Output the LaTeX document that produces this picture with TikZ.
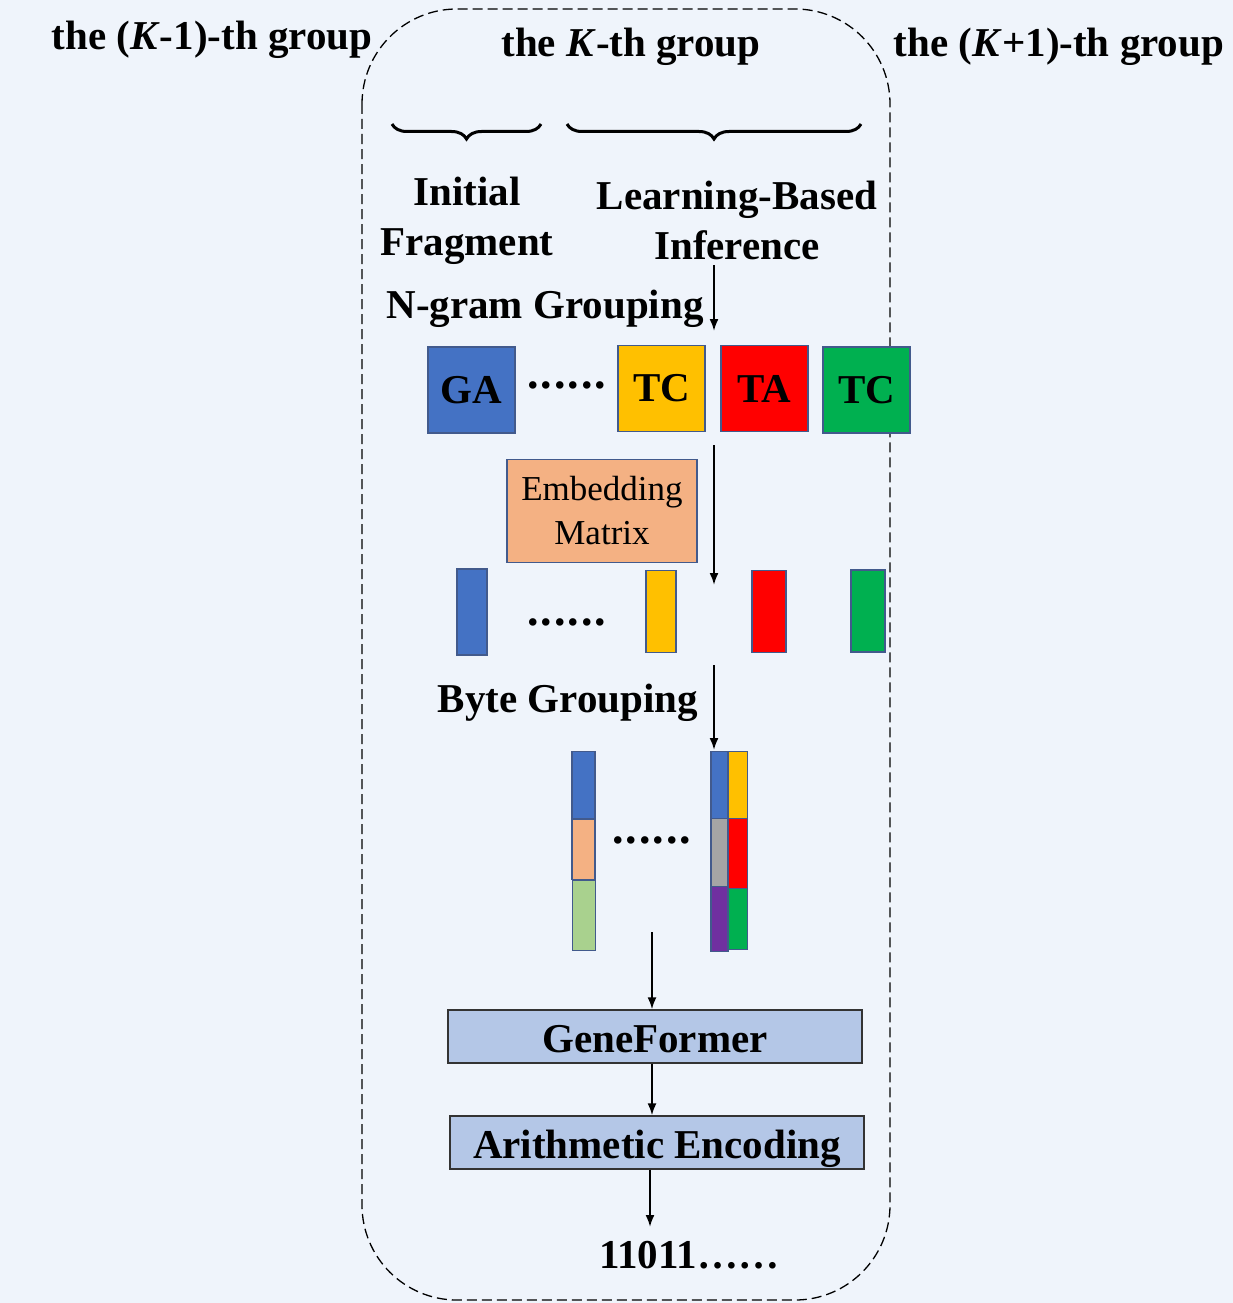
\documentclass[tikz,border=0pt]{standalone}
\usepackage{fontspec}
\setmainfont{Liberation Serif}
\usetikzlibrary{arrows.meta,decorations.pathreplacing,positioning}

\definecolor{bgblue}{RGB}{239,244,251}
\definecolor{ngblue}{RGB}{68,114,196}
\definecolor{ngyellow}{RGB}{255,192,0}
\definecolor{ngred}{RGB}{255,0,0}
\definecolor{nggreen}{RGB}{0,176,80}
\definecolor{embpeach}{RGB}{244,177,131}
\definecolor{softgreen}{RGB}{169,209,142}
\definecolor{midgray}{RGB}{165,165,165}
\definecolor{deeppurple}{RGB}{112,48,160}
\definecolor{modelblue}{RGB}{180,199,231}
\definecolor{edgeblue}{RGB}{66,90,140}

\newcommand{\gapdots}{{\fontsize{46}{46}\selectfont.\kern2pt.\kern2pt.\kern2pt.\kern2pt.\kern2pt.}}

\tikzset{
    bigtext/.style={font=\fontsize{41}{50}\selectfont\bfseries, align=center, inner sep=0pt},
    gram/.style={draw=edgeblue, line width=1.3pt, minimum width=87pt, minimum height=86pt,
        inner sep=0pt, font=\fontsize{41}{41}\selectfont\bfseries},
    vec/.style={draw=edgeblue, line width=1.3pt, minimum width=30pt, minimum height=82pt, inner sep=0pt},
    cell/.style={draw=edgeblue, line width=1.3pt, minimum width=20pt, inner sep=0pt, anchor=north},
    model/.style={draw=black!80, fill=modelblue, line width=1.3pt, minimum width=414pt,
        minimum height=53pt, inner sep=0pt, text height=33pt, text depth=1pt,
        font=\fontsize{41}{41}\selectfont\bfseries},
    flow/.style={-{Latex[length=12pt,width=9pt]}, line width=2pt},
    curly/.style={decorate, decoration={brace, mirror, amplitude=15pt}, line width=3pt}
}

\begin{document}
\begin{tikzpicture}[x=1pt,y=-1pt]
\useasboundingbox[fill=bgblue] (0,0) rectangle (1233,1303);

% the K-th group frame
\draw[dash pattern=on 10pt off 5pt, line width=1.3pt, rounded corners=95pt]
    (362,9) rectangle (890,1300);

% group titles
\node[bigtext, anchor=base] (prevgrp) at (212,50) {the (\textit{K}-1)-th group};
\node[bigtext, anchor=base] (curgrp) at (631,57) {the \textit{K}-th group};
\node[bigtext, anchor=base] (nextgrp) at (1059,57) {the (\textit{K}+1)-th group};

% braces
\draw[curly] (392,124) -- (541,124);
\draw[curly] (567,124) -- (861,124);

\node[bigtext] (initfrag) at (467,221) {Initial\\Fragment};
\node[bigtext] (infer) at (737,220) {Learning-Based\\Inference};
\node[bigtext, anchor=base] (ngram) at (545,318) {N-gram Grouping};

% n-gram tokens
\node[gram, fill=ngblue] (ga) at (471.5,390) {GA};
\node[bigtext, anchor=base] (dotsA) at (567,388) {\gapdots};
\node[gram, fill=ngyellow] (tcy) at (661.5,388.5) {TC};
\node[gram, fill=ngred] (ta) at (764.5,388.5) {TA};
\node[gram, fill=nggreen] (tcg) at (866.5,390) {TC};

% embedding
\node[
    draw=edgeblue,
    fill=embpeach,
    line width=1.3pt,
    minimum width=190pt,
    minimum height=103pt,
    align=center,
    font=\fontsize{35}{44}\selectfont
] (emb) at (602,511) {Embedding\\Matrix};

% embedded vectors
\node[vec, fill=ngblue, minimum height=86pt] (vb) at (472,612) {};
\node[bigtext, anchor=base] (dotsB) at (567,625) {\gapdots};
\node[vec, fill=ngyellow] (vy) at (661,611.5) {};
\node[vec, fill=ngred, minimum width=34pt] (vr) at (769,611.5) {};
\node[vec, fill=nggreen, minimum width=34pt] (vg) at (868,611) {};

\node[bigtext, anchor=base] (bytegrp) at (568,712) {Byte Grouping};

% byte-grouped columns
\node[cell, fill=ngblue, minimum width=23pt, minimum height=67pt] (lb) at (583.5,751) {};
\node[cell, fill=embpeach, minimum width=23pt, minimum height=60pt] (lp) at (583.5,819) {};
\node[cell, fill=softgreen, minimum width=23pt, minimum height=70pt] (lg) at (584,880) {};
\node[bigtext, anchor=base] (dotsC) at (652,843) {\gapdots};
\node[cell, fill=ngblue, minimum width=17pt, minimum height=67pt] (rb) at (719.5,751) {};
\node[cell, fill=midgray, minimum width=17pt, minimum height=68pt] (rgr) at (719.5,818) {};
\node[cell, fill=deeppurple, minimum width=17pt, minimum height=65pt] (rpu) at (719.5,886) {};
\node[cell, fill=ngyellow, minimum width=19pt, minimum height=67pt] (ry) at (738,751) {};
\node[cell, fill=ngred, minimum width=19pt, minimum height=70pt] (rr) at (738,818) {};
\node[cell, fill=nggreen, minimum width=19pt, minimum height=61pt] (rg) at (738,888) {};

% model and coder
\node[model] (gf) at (655,1036.5) {GeneFormer};
\node[model] (ae) at (657,1142.5) {Arithmetic Encoding};
\node[bigtext, anchor=base] (bits) at (689,1268) {11011……};

% arrows
\coordinate (a1s) at (714,265);
\coordinate (a1e) at (714,331);
\coordinate (a2s) at (714,445);
\coordinate (a2e) at (714,585);
\coordinate (a3s) at (714,665);
\coordinate (a3e) at (714,750);
\coordinate (a4s) at (652,932);
\coordinate (a6e) at (650,1227);
\draw[flow] (a1s) -- (a1e);
\draw[flow] (a2s) -- (a2e);
\draw[flow] (a3s) -- (a3e);
\draw[flow] (a4s) -- (a4s |- gf.north);
\draw[flow] (gf.south -| a4s) -- (ae.north -| a4s);
\draw[flow] (ae.south -| a6e) -- (a6e);
\end{tikzpicture}
\end{document}
